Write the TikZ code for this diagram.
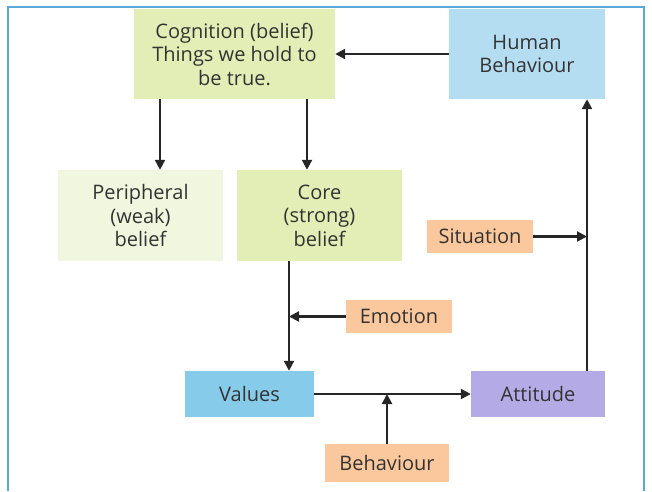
\documentclass[tikz,border=0pt]{standalone}
\usepackage{fontspec}
\setmainfont{Open Sans}
\usetikzlibrary{arrows.meta}

\definecolor{frameblue}{HTML}{5AA9D9}
\definecolor{beliefgreen}{HTML}{E3EEB6}
\definecolor{weakgreen}{HTML}{F1F6DE}
\definecolor{humanblue}{HTML}{B5DDF1}
\definecolor{valueblue}{HTML}{86CBEA}
\definecolor{lavender}{HTML}{B4ABE6}
\definecolor{peach}{HTML}{FAC89C}
\definecolor{ink}{HTML}{333333}

\tikzset{
  box/.style={inner sep=0pt, align=center, text=ink, font=\fontsize{20}{23.5}\selectfont},
  arr/.style={-{Triangle[length=10pt,width=10pt]}, line width=2.2pt, draw=black!85}
}

\begin{document}
\begin{tikzpicture}[x=1pt,y=-1pt]
      \useasboundingbox (0,0) rectangle (652,491);

      % Frame
      \draw[frameblue, line width=2pt] (8,491) -- (8,7) -- (644,7) -- (644,491);

      % Top row
      \node[box, fill=beliefgreen, minimum width=201pt, minimum height=90pt] (cognition) at (234.5,54)
        {Cognition (belief)\\Things we hold to\\be true.};
      \node[box, fill=humanblue, minimum width=156pt, minimum height=90pt] (human) at (527,54)
        {Human\\Behaviour};

      % Beliefs
      \node[box, fill=weakgreen, minimum width=165pt, minimum height=91pt] (periph) at (140.5,215.5)
        {Peripheral\\(weak)\\belief};
      \node[box, fill=beliefgreen, minimum width=165pt, minimum height=91pt] (core) at (319.5,215.5)
        {Core\\(strong)\\belief};

      % Influences
      \node[box, fill=peach, minimum width=106pt, minimum height=33pt] (situation) at (480,236.5) {Situation};
      \node[box, fill=peach, minimum width=106pt, minimum height=33pt] (emotion) at (399,316.5) {Emotion};
      \node[box, fill=peach, minimum width=124pt, minimum height=38pt] (behaviour) at (387,463) {Behaviour};

      % Bottom row
      \node[box, fill=valueblue, minimum width=129pt, minimum height=46pt] (values) at (249.5,394) {Values};
      \node[box, fill=lavender, minimum width=134pt, minimum height=46pt] (attitude) at (538,394) {Attitude};

      % Line positions
      \coordinate (xperiph) at (160,0);
      \coordinate (xcore) at (307,0);
      \coordinate (xvalues) at (289,0);
      \coordinate (xhuman) at (587,0);

      % Connectors
      \draw[arr] (human.west) -- (cognition.east);
      \draw[arr] (xperiph |- cognition.south) -- (xperiph |- periph.north);
      \draw[arr] (xcore |- cognition.south) -- (xcore |- core.north);
      \draw[arr] (xvalues |- core.south) -- (xvalues |- values.north);
      \draw[arr] (emotion.west) -- (emotion.west -| xvalues);
      \draw[arr] (values.east) -- (attitude.west);
      \draw[arr] (behaviour.north) -- (behaviour.north |- values.east);
      \draw[arr] (xhuman |- attitude.north) -- (xhuman |- human.south);
      \draw[arr] (situation.east) -- (situation.east -| xhuman);
    \end{tikzpicture}
\end{document}
